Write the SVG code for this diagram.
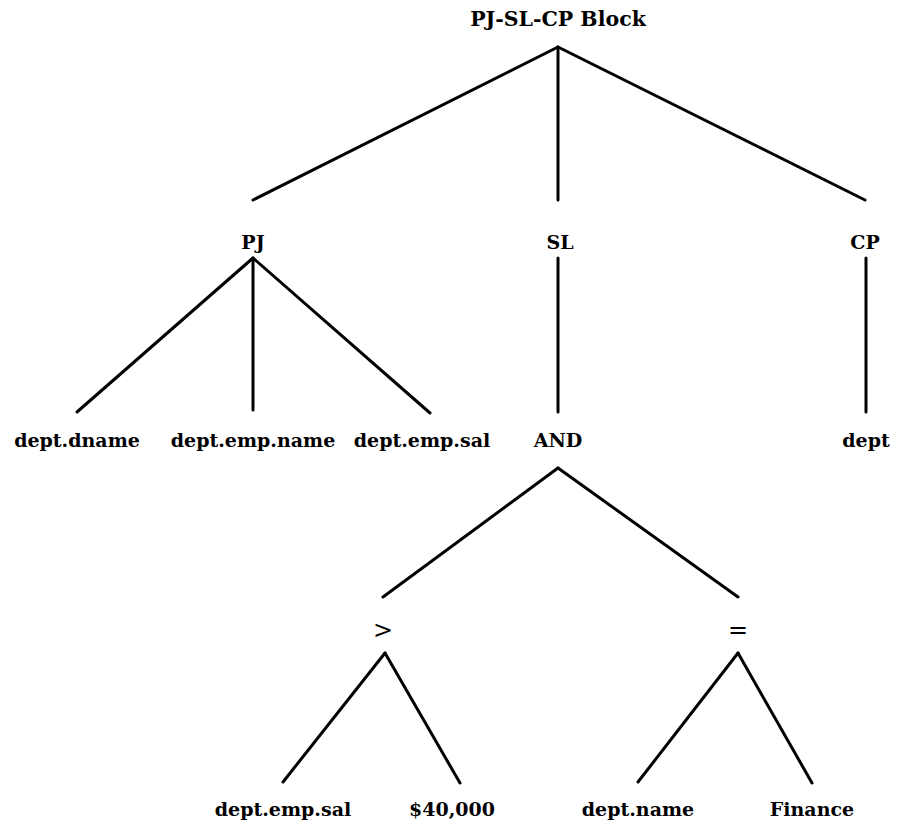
<svg xmlns="http://www.w3.org/2000/svg" width="897" height="827" viewBox="0 0 897 827">
<style>
text{font-family:"DejaVu Serif","Liberation Serif",serif;font-weight:bold;font-size:19px;fill:#000;text-anchor:middle}
.op{font-size:24px;font-weight:normal}
.t{font-size:20.5px}
.c line{stroke:#000;stroke-width:3;stroke-linecap:round}
</style>
<rect width="897" height="827" fill="#fff"/>
<g class="c" id="connectors">
<line x1="558" y1="47" x2="253" y2="200"/>
<line x1="558" y1="47" x2="558" y2="200"/>
<line x1="558" y1="47" x2="865" y2="200"/>
<line x1="253" y1="258" x2="77" y2="412"/>
<line x1="253" y1="258" x2="253" y2="410"/>
<line x1="253" y1="258" x2="430" y2="413"/>
<line x1="558" y1="258" x2="558" y2="412"/>
<line x1="866" y1="258" x2="866" y2="412"/>
<line x1="558" y1="468" x2="383" y2="597"/>
<line x1="558" y1="468" x2="738" y2="597"/>
<line x1="385" y1="653" x2="283" y2="782"/>
<line x1="385" y1="653" x2="460" y2="783"/>
<line x1="738" y1="653" x2="638" y2="782"/>
<line x1="738" y1="653" x2="812" y2="783"/>
</g>
<g id="root"><text class="t" x="558" y="26">PJ-SL-CP Block</text></g>
<g id="pj"><text x="253" y="249">PJ</text></g>
<g id="sl"><text x="560" y="249">SL</text></g>
<g id="cp"><text x="865" y="249">CP</text></g>
<g id="dname"><text x="77" y="447">dept.dname</text></g>
<g id="empname"><text x="253" y="447">dept.emp.name</text></g>
<g id="empsal1"><text x="422" y="447">dept.emp.sal</text></g>
<g id="and"><text x="558" y="447">AND</text></g>
<g id="dept"><text x="866" y="447">dept</text></g>
<g id="gt"><text class="op" x="383" y="638">&gt;</text></g>
<g id="eq"><text class="op" x="738" y="638">=</text></g>
<g id="empsal2"><text x="283" y="816">dept.emp.sal</text></g>
<g id="val"><text x="452" y="816">$40,000</text></g>
<g id="name"><text x="638" y="816">dept.name</text></g>
<g id="fin"><text x="812" y="816">Finance</text></g>
</svg>
